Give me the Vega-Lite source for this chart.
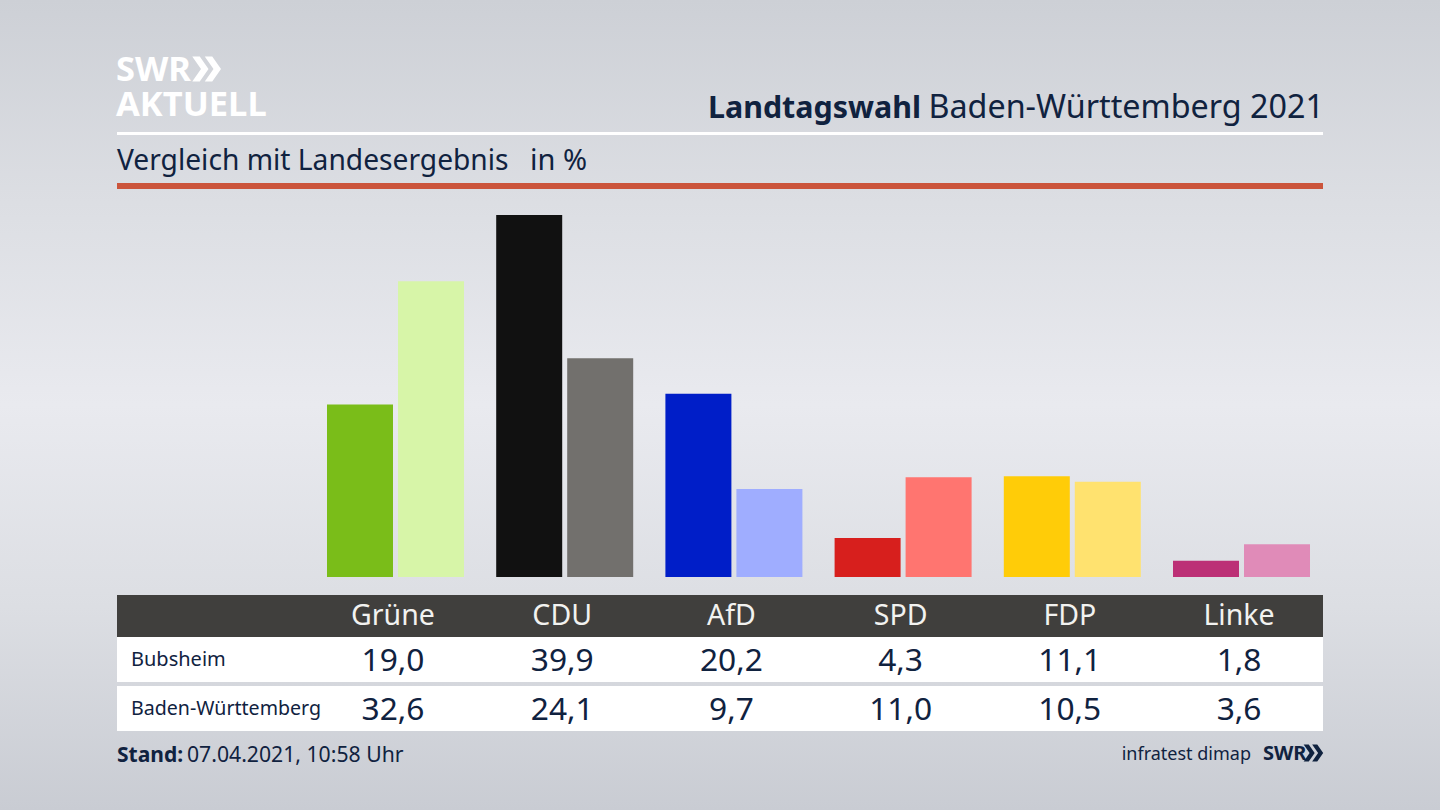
{
  "$schema": "https://vega.github.io/schema/vega-lite/v6.json",
  "description": "Landtagswahl Baden-Württemberg 2021, Vergleich Bubsheim mit Landesergebnis",
  "width": 1440,
  "height": 810,
  "padding": 0,
  "autosize": {"type": "fit", "contains": "padding"},
  "background": "#dcdee3",
  "config": {
    "view": {"stroke": null},
    "font": "Noto Sans",
    "locale": {"number": {"decimal": ",", "thousands": ".", "grouping": [3], "currency": ["", " €"]}},
    "text": {"font": "Noto Sans", "color": "#10223f", "baseline": "alphabetic"}
  },
  "datasets": {
    "ergebnis": [
      {"partei": "Grüne", "gebiet": "Bubsheim", "anteil": 19.0, "gruppe": "Grüne Bubsheim"},
      {"partei": "Grüne", "gebiet": "Baden-Württemberg", "anteil": 32.6, "gruppe": "Grüne Land"},
      {"partei": "CDU", "gebiet": "Bubsheim", "anteil": 39.9, "gruppe": "CDU Bubsheim"},
      {"partei": "CDU", "gebiet": "Baden-Württemberg", "anteil": 24.1, "gruppe": "CDU Land"},
      {"partei": "AfD", "gebiet": "Bubsheim", "anteil": 20.2, "gruppe": "AfD Bubsheim"},
      {"partei": "AfD", "gebiet": "Baden-Württemberg", "anteil": 9.7, "gruppe": "AfD Land"},
      {"partei": "SPD", "gebiet": "Bubsheim", "anteil": 4.3, "gruppe": "SPD Bubsheim"},
      {"partei": "SPD", "gebiet": "Baden-Württemberg", "anteil": 11.0, "gruppe": "SPD Land"},
      {"partei": "FDP", "gebiet": "Bubsheim", "anteil": 11.1, "gruppe": "FDP Bubsheim"},
      {"partei": "FDP", "gebiet": "Baden-Württemberg", "anteil": 10.5, "gruppe": "FDP Land"},
      {"partei": "Linke", "gebiet": "Bubsheim", "anteil": 1.8, "gruppe": "Linke Bubsheim"},
      {"partei": "Linke", "gebiet": "Baden-Württemberg", "anteil": 3.6, "gruppe": "Linke Land"}
    ],
    "parteien": [
      {"partei": "Grüne"}, {"partei": "CDU"}, {"partei": "AfD"},
      {"partei": "SPD"}, {"partei": "FDP"}, {"partei": "Linke"}
    ]
  },
  "resolve": {"scale": {"x": "independent", "y": "independent", "color": "independent"}},
  "layer": [
    {
      "data": {"values": [{}]},
      "layer": [
        {
          "mark": {
            "type": "rect",
            "color": {
              "gradient": "linear", "x1": 0, "y1": 0, "x2": 0, "y2": 1,
              "stops": [
                {"offset": 0, "color": "#cdd0d6"},
                {"offset": 0.25, "color": "#dcdee3"},
                {"offset": 0.5, "color": "#e9eaef"},
                {"offset": 0.75, "color": "#dcdee3"},
                {"offset": 1, "color": "#c9ccd3"}
              ]
            }
          },
          "encoding": {
            "x": {"datum": 0, "type": "quantitative", "axis": null, "scale": {"domain": [0, 1440], "range": [0, 1440], "nice": false, "zero": false}},
            "x2": {"datum": 1440},
            "y": {"datum": 0, "type": "quantitative", "axis": null, "scale": {"domain": [0, 810], "range": [0, 810], "nice": false, "zero": false}},
            "y2": {"datum": 810}
          }
        },
        {"mark": {"type": "rect", "color": "#ffffff"}, "encoding": {"x": {"datum": 117}, "x2": {"datum": 1323}, "y": {"datum": 132}, "y2": {"datum": 135}}},
        {"mark": {"type": "rect", "color": "#cb543b"}, "encoding": {"x": {"datum": 117}, "x2": {"datum": 1323}, "y": {"datum": 183}, "y2": {"datum": 189}}},
        {"mark": {"type": "rect", "color": "#403f3d"}, "encoding": {"x": {"datum": 117}, "x2": {"datum": 1323}, "y": {"datum": 595}, "y2": {"datum": 637}}},
        {"mark": {"type": "rect", "color": "#ffffff"}, "encoding": {"x": {"datum": 117}, "x2": {"datum": 1323}, "y": {"datum": 637}, "y2": {"datum": 682}}},
        {"mark": {"type": "rect", "color": "#ffffff"}, "encoding": {"x": {"datum": 117}, "x2": {"datum": 1323}, "y": {"datum": 686}, "y2": {"datum": 731}}},
        {"mark": {"type": "text", "align": "left", "fontSize": 34.5, "lineHeight": 35, "fontWeight": "bold", "color": "#ffffff"}, "encoding": {"x": {"datum": 116}, "y": {"datum": 81}, "text": {"value": ["SWR", "AKTUELL"]}}},
        {"mark": {"type": "point", "filled": true, "opacity": 1, "color": "#ffffff", "size": 625, "shape": "M-1.1,-1L-0.5,-1L0.2,0L-0.5,1L-1.1,1L-0.4,0ZM-0.1,-1L0.5,-1L1.2,0L0.5,1L-0.1,1L0.6,0Z"}, "encoding": {"x": {"datum": 206}, "y": {"datum": 69}}},
        {"mark": {"type": "text", "align": "right", "fontSize": 32.3}, "encoding": {"x": {"datum": 1324}, "y": {"datum": 118}, "text": {"value": "Baden-Württemberg 2021"}}},
        {"mark": {"type": "text", "align": "right", "fontSize": 30.4, "fontWeight": "bold"}, "encoding": {"x": {"datum": 921}, "y": {"datum": 118}, "text": {"value": "Landtagswahl"}}},
        {"mark": {"type": "text", "align": "left", "fontSize": 28.2}, "encoding": {"x": {"datum": 117}, "y": {"datum": 170}, "text": {"value": "Vergleich mit Landesergebnis"}}},
        {"mark": {"type": "text", "align": "left", "fontSize": 29}, "encoding": {"x": {"datum": 530}, "y": {"datum": 170}, "text": {"value": "in %"}}},
        {"mark": {"type": "text", "align": "left", "fontSize": 20}, "encoding": {"x": {"datum": 131}, "y": {"datum": 666}, "text": {"value": "Bubsheim"}}},
        {"mark": {"type": "text", "align": "left", "fontSize": 19.6}, "encoding": {"x": {"datum": 131}, "y": {"datum": 715}, "text": {"value": "Baden-Württemberg"}}},
        {"mark": {"type": "text", "align": "left", "fontSize": 21, "fontWeight": "bold"}, "encoding": {"x": {"datum": 117}, "y": {"datum": 762}, "text": {"value": "Stand:"}}},
        {"mark": {"type": "text", "align": "left", "fontSize": 21.2}, "encoding": {"x": {"datum": 187}, "y": {"datum": 762}, "text": {"value": "07.04.2021, 10:58 Uhr"}}},
        {"mark": {"type": "text", "align": "right", "fontSize": 18}, "encoding": {"x": {"datum": 1251}, "y": {"datum": 760}, "text": {"value": "infratest dimap"}}},
        {"mark": {"type": "text", "align": "left", "fontSize": 20, "fontWeight": "bold"}, "encoding": {"x": {"datum": 1263}, "y": {"datum": 760}, "text": {"value": "SWR"}}},
        {"mark": {"type": "point", "filled": true, "opacity": 1, "color": "#10223f", "size": 289, "shape": "M-1.1,-1L-0.5,-1L0.2,0L-0.5,1L-1.1,1L-0.4,0ZM-0.1,-1L0.5,-1L1.2,0L0.5,1L-0.1,1L0.6,0Z"}, "encoding": {"x": {"datum": 1313}, "y": {"datum": 753}}}
      ]
    },
    {
      "data": {"name": "ergebnis"},
      "mark": {"type": "bar", "width": 66},
      "encoding": {
        "x": {"field": "partei", "type": "nominal", "axis": null, "sort": null, "scale": {"type": "band", "domain": ["Grüne", "CDU", "AfD", "SPD", "FDP", "Linke"], "range": [308.4, 1323.6], "padding": 0}},
        "xOffset": {"field": "gebiet", "type": "nominal", "scale": {"type": "point", "domain": ["Bubsheim", "Baden-Württemberg"], "range": [51.6, 122.6], "padding": 0}},
        "y": {"field": "anteil", "type": "quantitative", "axis": null, "scale": {"domain": [0, 39.9], "range": [577, 215], "nice": false}},
        "color": {
          "field": "gruppe",
          "type": "nominal",
          "legend": null,
          "scale": {
            "domain": ["Grüne Bubsheim", "Grüne Land", "CDU Bubsheim", "CDU Land", "AfD Bubsheim", "AfD Land", "SPD Bubsheim", "SPD Land", "FDP Bubsheim", "FDP Land", "Linke Bubsheim", "Linke Land"],
            "range": ["#7abd19", "#d7f5a8", "#111111", "#72706d", "#001ec8", "#9fadff", "#d71f1d", "#ff7570", "#ffcc08", "#ffe26f", "#bc3076", "#e08bb8"]
          }
        }
      }
    },
    {
      "data": {"name": "parteien"},
      "mark": {"type": "text", "fontSize": 28.5, "color": "#f2f2f0", "align": "center"},
      "encoding": {
        "x": {"field": "partei", "type": "nominal", "axis": null, "sort": null, "scale": {"type": "band", "domain": ["Grüne", "CDU", "AfD", "SPD", "FDP", "Linke"], "range": [308.4, 1323.6], "padding": 0}},
        "y": {"datum": 625, "type": "quantitative", "axis": null, "scale": {"domain": [0, 810], "range": [0, 810], "nice": false, "zero": false}},
        "text": {"field": "partei"}
      }
    },
    {
      "data": {"name": "ergebnis"},
      "mark": {"type": "text", "fontSize": 31.7, "align": "center"},
      "encoding": {
        "x": {"field": "partei", "type": "nominal", "axis": null, "sort": null, "scale": {"type": "band", "domain": ["Grüne", "CDU", "AfD", "SPD", "FDP", "Linke"], "range": [308.4, 1323.6], "padding": 0}},
        "y": {"field": "gebiet", "type": "nominal", "axis": null, "sort": null, "scale": {"type": "point", "domain": ["Bubsheim", "Baden-Württemberg"], "range": [671, 720], "padding": 0}},
        "text": {"field": "anteil", "type": "quantitative", "format": ".1f"}
      }
    }
  ]
}
